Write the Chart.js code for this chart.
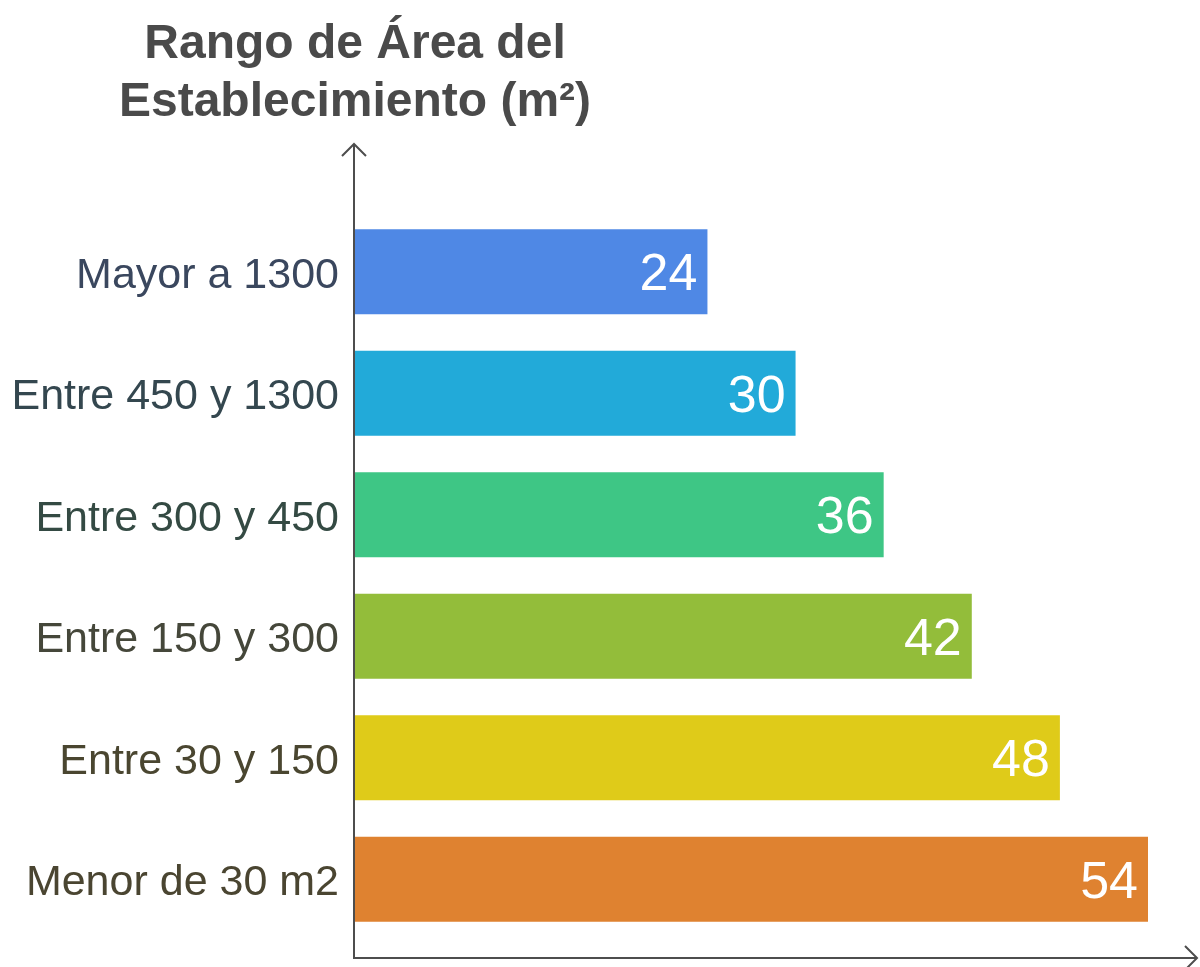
<!DOCTYPE html>
<html lang="es">
<head>
<meta charset="UTF-8">
<title>Rango de Área del Establecimiento</title>
<script src="https://cdn.jsdelivr.net/npm/chart.js@4"></script>
<style>
  html, body { margin: 0; padding: 0; background: #ffffff; }
  #contenedor { width: 1200px; height: 967px; position: relative; }
</style>
</head>
<body>
<div id="contenedor"><canvas id="graficoArea"></canvas></div>
<script>
// Datos del gráfico
const categorias = ['Mayor a 1300', 'Entre 450 y 1300', 'Entre 300 y 450', 'Entre 150 y 300', 'Entre 30 y 150', 'Menor de 30 m2'];
const valores = [24, 30, 36, 42, 48, 54];
const coloresBarras = ['#4f88e5', '#22aad9', '#3ec685', '#93bd3a', '#dfcb19', '#df8230'];
const coloresEtiquetas = ['#3a475e', '#34474f', '#344a43', '#45473a', '#4a4630', '#4a4531'];
const tituloLineas = ['Rango de Área del', 'Establecimiento (m²)'];

const fuente = '"Liberation Sans", Arial, sans-serif';

// Titulo centrado sobre el eje vertical
const pluginTitulo = {
    id: 'tituloEje',
    afterDraw(chart) {
        const ctx = chart.ctx;
        const x = chart.chartArea.left;
        ctx.save();
        ctx.font = 'bold 48px ' + fuente;
        ctx.fillStyle = '#4a4a4a';
        ctx.textAlign = 'center';
        ctx.textBaseline = 'alphabetic';
        ctx.fillText(tituloLineas[0], x, 58);
        ctx.fillText(tituloLineas[1], x, 116);
        ctx.restore();
    }
};

// Ejes con flechas
const pluginEjes = {
    id: 'ejesFlechas',
    afterDraw(chart) {
        const ctx = chart.ctx;
        const a = chart.chartArea;
        const x0 = a.left - 1;
        const top = a.top - 67;
        const y0 = a.bottom + 18;
        const right = a.right + 2;
        ctx.save();
        ctx.strokeStyle = '#4d4d4d';
        ctx.lineWidth = 2;
        ctx.beginPath();
        ctx.moveTo(x0, top);
        ctx.lineTo(x0, y0);
        ctx.lineTo(right, y0);
        ctx.stroke();
        ctx.beginPath();
        ctx.moveTo(x0 - 12, top + 12);
        ctx.lineTo(x0, top);
        ctx.lineTo(x0 + 12, top + 12);
        ctx.moveTo(right - 12, y0 - 12);
        ctx.lineTo(right, y0);
        ctx.lineTo(right - 12, y0 + 12);
        ctx.stroke();
        ctx.restore();
    }
};

// Valores dentro de las barras
const pluginValores = {
    id: 'valoresBarras',
    afterDatasetsDraw(chart) {
        const ctx = chart.ctx;
        const meta = chart.getDatasetMeta(0);
        ctx.save();
        ctx.font = '52px ' + fuente;
        ctx.fillStyle = '#ffffff';
        ctx.textAlign = 'right';
        ctx.textBaseline = 'middle';
        meta.data.forEach(function(barra, i) {
            ctx.fillText(String(valores[i]), barra.x - 10, barra.y + 4);
        });
        ctx.restore();
    }
};

const ctx = document.getElementById('graficoArea').getContext('2d');

new Chart(ctx, {
    type: 'bar',
    data: {
        labels: categorias,
        datasets: [{
            data: valores,
            backgroundColor: coloresBarras,
            borderWidth: 0,
            categoryPercentage: 1,
            barPercentage: 0.7
        }]
    },
    options: {
        indexAxis: 'y',
        responsive: true,
        maintainAspectRatio: false,
        animation: false,
        layout: {
            padding: { top: 211, bottom: 27, right: 5, left: 0 }
        },
        plugins: {
            legend: { display: false },
            tooltip: { enabled: false }
        },
        scales: {
            x: {
                display: false,
                min: 0,
                max: 57.2
            },
            y: {
                afterFit(escala) {
                    escala.width = 355;
                    escala.paddingTop = 0;
                    escala.paddingBottom = 0;
                },
                border: { display: false },
                grid: { display: false, drawTicks: false },
                ticks: {
                    padding: 16,
                    labelOffset: 4,
                    color: coloresEtiquetas,
                    font: { family: fuente, size: 43 }
                }
            }
        }
    },
    plugins: [pluginTitulo, pluginEjes, pluginValores]
});
</script>
</body>
</html>
